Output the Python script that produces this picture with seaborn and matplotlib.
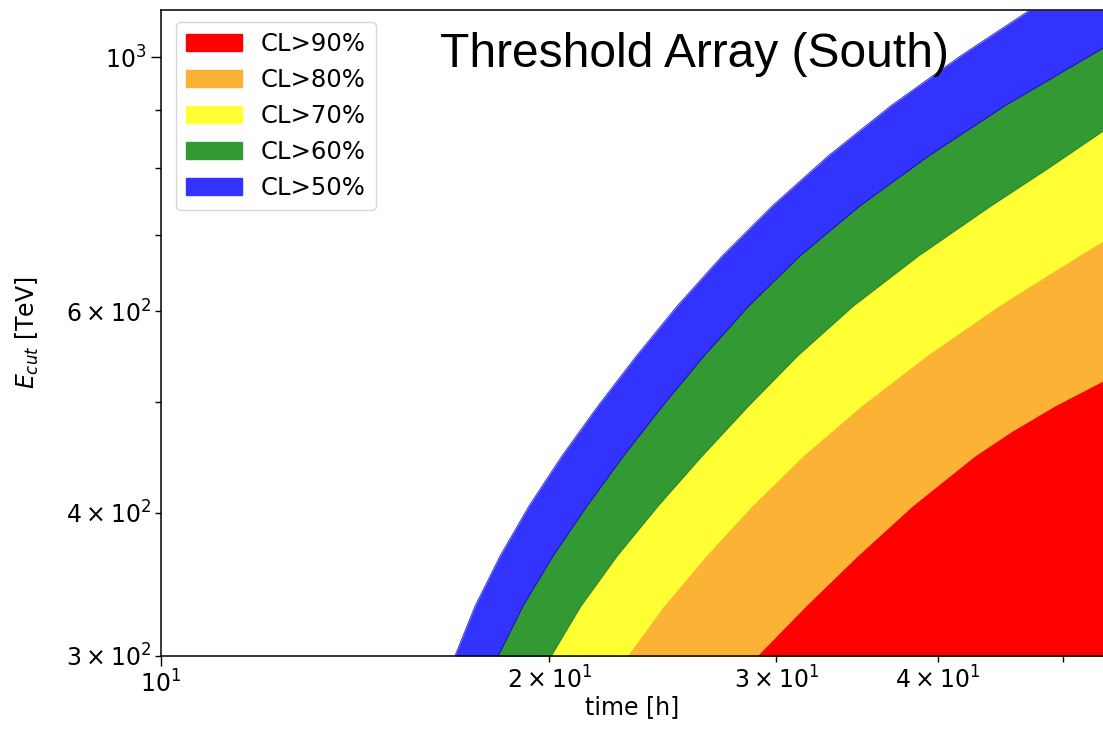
import matplotlib
matplotlib.use("Agg")
import matplotlib.pyplot as plt
from matplotlib.patches import Patch
from matplotlib.ticker import FixedLocator, FixedFormatter
import seaborn as sns

# Confidence-level boundaries: cut-off energy E_cut [TeV] reached at a given observation time [h]
time_cl50 = [16.90, 17.52, 18.32, 19.29, 20.46, 21.82, 23.37, 25.14, 27.24, 29.79, 32.92, 36.81, 41.70, 47.17]
ecut_cl50 = [300.0, 331.8, 366.9, 405.7, 448.7, 496.2, 548.7, 606.8, 671.0, 742.0, 820.6, 907.5, 1003.5, 1100.0]

time_cl60 = [18.25, 19.08, 20.13, 21.39, 22.83, 24.48, 26.36, 28.56, 31.29, 34.82, 39.38, 45.11, 53.73]
ecut_cl60 = [300.0, 331.8, 366.9, 405.7, 448.7, 496.2, 548.7, 606.8, 671.0, 742.0, 820.6, 907.5, 1018.9]

time_cl70 = [20.06, 21.16, 22.57, 24.28, 26.27, 28.54, 31.15, 34.42, 38.66, 44.00, 48.62, 53.73]
ecut_cl70 = [300.0, 331.8, 366.9, 405.7, 448.7, 496.2, 548.7, 606.8, 671.0, 742.0, 798.8, 862.4]

time_cl80 = [22.98, 24.54, 26.45, 28.72, 31.46, 34.92, 39.21, 44.63, 48.97, 53.73]
ecut_cl80 = [300.0, 331.8, 366.9, 405.7, 448.7, 496.2, 548.7, 606.8, 648.1, 691.2]

time_cl90 = [28.98, 31.62, 34.67, 38.24, 42.76, 45.72, 49.32, 53.73]
ecut_cl90 = [300.0, 331.8, 366.9, 405.7, 448.7, 471.7, 496.2, 521.6]

cl_labels = ["CL>50%", "CL>60%", "CL>70%", "CL>80%", "CL>90%"]

time_range = (10.0, 53.73)
ecut_range = (300.0, 1100.0)

x_major_ticks = [10]
x_major_labels = [r"$\mathdefault{10^{1}}$"]
x_minor_ticks = [20, 30, 40, 50]
x_minor_labels = [r"$\mathdefault{2\times10^{1}}$", r"$\mathdefault{3\times10^{1}}$",
                  r"$\mathdefault{4\times10^{1}}$", ""]
y_major_ticks = [1000]
y_major_labels = [r"$\mathdefault{10^{3}}$"]
y_minor_ticks = [300, 400, 500, 600, 700, 800, 900]
y_minor_labels = [r"$\mathdefault{3\times10^{2}}$", r"$\mathdefault{4\times10^{2}}$", "",
                  r"$\mathdefault{6\times10^{2}}$", "", "", ""]

band_colors = ["#3333ff", "#339933", "#ffff33", "#fcb234", "#ff0000"]
edge_colors = ["#2f2fe0", "#1c1c9a", "#2f8a2f", None, None]

sns.set_style("ticks", {
    "axes.edgecolor": "black",
    "xtick.color": "black",
    "ytick.color": "black",
    "text.color": "black",
    "axes.labelcolor": "black",
})
plt.rcParams["font.family"] = ["DejaVu Sans"]
plt.rcParams["mathtext.fontset"] = "dejavusans"

fig = plt.figure(figsize=(11.03, 7.40), dpi=100)
ax = fig.add_axes([161 / 1103, 84 / 740, 942 / 1103, 646 / 740])
ax.set_xscale("log")
ax.set_yscale("log")
ax.set_xlim(*time_range)
ax.set_ylim(*ecut_range)

curves = [(time_cl50, ecut_cl50), (time_cl60, ecut_cl60), (time_cl70, ecut_cl70),
          (time_cl80, ecut_cl80), (time_cl90, ecut_cl90)]

# Each region CL > level lies to the right of its boundary curve
for (t, e), color in zip(curves, band_colors):
    ax.fill_betweenx(e, t, time_range[1], color=color, linewidth=0, zorder=1)

for (t, e), ec in zip(curves, edge_colors):
    if ec is not None:
        sns.lineplot(x=t, y=e, sort=False, estimator=None, color=ec,
                     linewidth=0.7, ax=ax, zorder=2)

ax.xaxis.set_major_locator(FixedLocator(x_major_ticks))
ax.xaxis.set_major_formatter(FixedFormatter(x_major_labels))
ax.xaxis.set_minor_locator(FixedLocator(x_minor_ticks))
ax.xaxis.set_minor_formatter(FixedFormatter(x_minor_labels))
ax.yaxis.set_major_locator(FixedLocator(y_major_ticks))
ax.yaxis.set_major_formatter(FixedFormatter(y_major_labels))
ax.yaxis.set_minor_locator(FixedLocator(y_minor_ticks))
ax.yaxis.set_minor_formatter(FixedFormatter(y_minor_labels))

ax.tick_params(which="both", labelsize=17, direction="out", width=1.0,
               top=False, right=False)
ax.tick_params(which="major", length=7)
ax.tick_params(which="minor", length=4)

for side in ["left", "bottom", "top"]:
    ax.spines[side].set_linewidth(1.1)
    ax.spines[side].set_color("black")
ax.spines["right"].set_visible(False)

ax.set_xlabel("time [h]", fontsize=17, labelpad=-2)
ax.set_ylabel(r"$E_{cut}$ [TeV]", fontsize=17, labelpad=18)

handles = [Patch(facecolor=c, edgecolor=c, label=l)
           for c, l in zip(band_colors[::-1], cl_labels[::-1])]
ax.legend(handles=handles, loc="upper left", bbox_to_anchor=(0.0159, 0.9814),
          borderaxespad=0, frameon=True, fontsize=17.5, handlelength=2.3,
          framealpha=0.8, edgecolor="0.8", fancybox=True)

ax.text(0.296, 0.912, "Threshold Array (South)", transform=ax.transAxes,
        fontsize=34.5, va="baseline", ha="left",
        family=["Liberation Sans", "DejaVu Sans"], zorder=5)

fig.savefig("out.png", dpi=100)
